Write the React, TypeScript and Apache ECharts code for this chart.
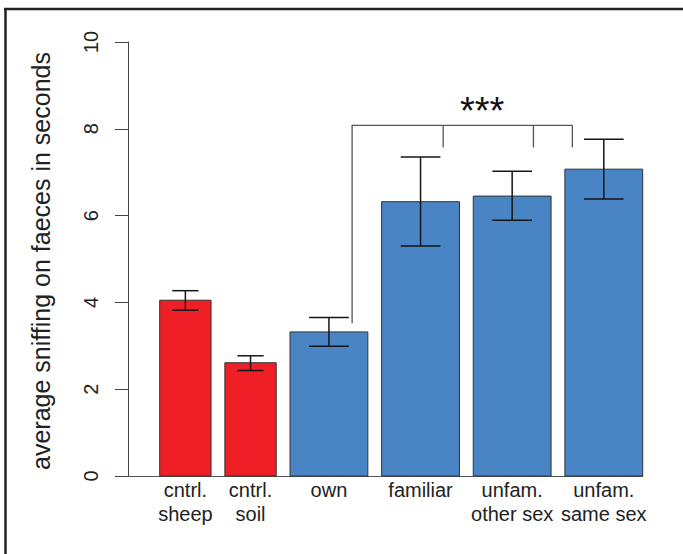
import React, { useEffect, useRef } from "react";
import * as echarts from "echarts";

const categories = ["cntrl.\nsheep", "cntrl.\nsoil", "own", "familiar", "unfam.\nother sex", "unfam.\nsame sex"];
const groups = ["control", "control", "test", "test", "test", "test"];
const means = [4.05, 2.61, 3.32, 6.32, 6.45, 7.07];
const upper = [4.27, 2.77, 3.65, 7.35, 7.02, 7.76];
const lower = [3.82, 2.43, 2.99, 5.3, 5.89, 6.38];
const yTicks = [0, 2, 4, 6, 8, 10];
const yTitle = "average sniffing on faeces in seconds";
// significance bracket (x in bar units, y in seconds)
const bracketX = [2.65, 3.82, 4.98, 5.48];
const bracketTop = 8.08;
const bracketLeftBottom = 3.52;
const bracketTickBottom = 7.57;
const significance = "***";
const starPos = [4.32, 8.40];

const FONT = "'Liberation Sans', Arial, Helvetica, sans-serif";
const COLORS: Record<string, string> = { control: "#EE1F25", test: "#4985C5" };

export default function App() {
  const ref = useRef<HTMLDivElement>(null);
  useEffect(() => {
    if (!ref.current) return;
    const chart = echarts.init(ref.current, undefined, { renderer: "svg" });

    const widths = groups.map((g) => (g === "control" ? 0.66 : 1));
    const avgW = widths.reduce((a, b) => a + b, 0) / widths.length;
    const space = 0.2 * avgW;
    let cursor = 0;
    const barData: number[][] = [];
    widths.forEach((w, i) => {
      cursor += space;
      barData.push([cursor, cursor + w, means[i], lower[i], upper[i]]);
      cursor += w;
    });
    const xMax = cursor;

    const option: any = {
      animation: false,
      grid: { left: 128, right: 683 - 642.7, top: 42, bottom: 554 - 476, containLabel: false },
      xAxis: {
        type: "value",
        min: -0.23,
        max: xMax,
        axisLine: { show: true, onZero: false, lineStyle: { color: "#555", width: 1 } },
        axisTick: { show: false },
        axisLabel: { show: false },
        splitLine: { show: false },
      },
      yAxis: {
        type: "value",
        min: yTicks[0],
        max: yTicks[yTicks.length - 1],
        interval: 2,
        axisLine: { show: true, onZero: false, lineStyle: { color: "#444", width: 1 } },
        axisTick: { show: true, length: 13, lineStyle: { color: "#444", width: 1 } },
        axisLabel: { rotate: 90, margin: 27, fontSize: 20, color: "#222", fontFamily: FONT },
        splitLine: { show: false },
      },
      graphic: [
        { type: "line", shape: { x1: 4, y1: 9, x2: 683, y2: 9 }, style: { stroke: "#222", lineWidth: 2.5 } },
        { type: "line", shape: { x1: 5.5, y1: 8, x2: 5.5, y2: 554 }, style: { stroke: "#222", lineWidth: 2.5 } },
        {
          type: "text",
          x: 41,
          y: 261,
          rotation: Math.PI / 2,
          style: {
            text: yTitle,
            fontSize: 25,
            fontFamily: FONT,
            fill: "#222",
            align: "center",
            verticalAlign: "middle",
            textAlign: "center",
            textVerticalAlign: "middle",
          },
        },
      ],
      series: [
        {
          type: "custom",
          clip: false,
          data: barData,
          renderItem: (params: any, api: any) => {
            const idx = params.dataIndex;
            const l = api.value(0), r = api.value(1), m = api.value(2), lo = api.value(3), hi = api.value(4);
            const p0 = api.coord([l, 0]);
            const p1 = api.coord([r, m]);
            const cx = (l + r) / 2;
            const capHalf = (r - l) * 0.255;
            const base = api.coord([cx, 0]);
            const pHi = api.coord([cx, hi]);
            const pLo = api.coord([cx, lo]);
            const xl = api.coord([cx - capHalf, 0])[0];
            const xr = api.coord([cx + capHalf, 0])[0];
            const errStyle = { stroke: "#151515", lineWidth: 1.5 };
            return {
              type: "group",
              children: [
                {
                  type: "rect",
                  shape: { x: p0[0], y: p1[1], width: p1[0] - p0[0], height: p0[1] - p1[1] },
                  style: { fill: COLORS[groups[idx]], stroke: "#333", lineWidth: 1 },
                },
                { type: "line", shape: { x1: pHi[0], y1: pHi[1], x2: pLo[0], y2: pLo[1] }, style: errStyle },
                { type: "line", shape: { x1: xl, y1: pHi[1], x2: xr, y2: pHi[1] }, style: errStyle },
                { type: "line", shape: { x1: xl, y1: pLo[1], x2: xr, y2: pLo[1] }, style: errStyle },
                {
                  type: "text",
                  x: base[0],
                  y: base[1] + 2,
                  style: {
                    text: categories[idx],
                    fontSize: 20,
                    lineHeight: 24,
                    fontFamily: FONT,
                    fill: "#222",
                    align: "center",
                    verticalAlign: "top",
                    textAlign: "center",
                    textVerticalAlign: "top",
                  },
                },
              ],
            };
          },
        },
        {
          type: "custom",
          clip: false,
          data: [[0]],
          renderItem: (params: any, api: any) => {
            const topL = api.coord([bracketX[0], bracketTop]);
            const botL = api.coord([bracketX[0], bracketLeftBottom]);
            const topR = api.coord([bracketX[bracketX.length - 1], bracketTop]);
            const st = { stroke: "#555", lineWidth: 1.3, fill: "none" };
            const children: any[] = [
              { type: "polyline", shape: { points: [botL, topL, topR] }, style: st },
            ];
            bracketX.slice(1).forEach((bx) => {
              const a = api.coord([bx, bracketTop]);
              const b = api.coord([bx, bracketTickBottom]);
              children.push({ type: "line", shape: { x1: a[0], y1: a[1], x2: b[0], y2: b[1] }, style: st });
            });
            const sp = api.coord(starPos);
            children.push({
              type: "text",
              x: sp[0],
              y: sp[1],
              style: {
                text: significance,
                fontSize: 38,
                fontFamily: FONT,
                fill: "#111",
                align: "center",
                verticalAlign: "middle",
                textAlign: "center",
                textVerticalAlign: "middle",
              },
            });
            return { type: "group", children };
          },
        },
      ],
    };
    chart.setOption(option);
    return () => chart.dispose();
  }, []);
  return (
    <div
      ref={ref}
      style={{ position: "fixed", left: 0, top: 0, width: 683, height: 554, background: "#fff" }}
    />
  );
}
